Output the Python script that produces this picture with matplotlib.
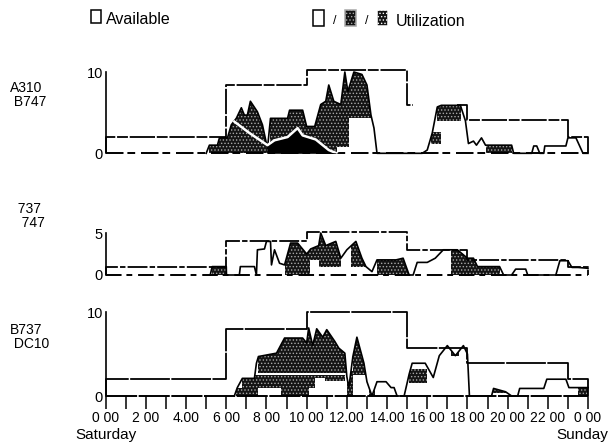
#!/usr/bin/env python3
"""Aircraft availability vs utilization over a Saturday, three fleet panels."""
import matplotlib
matplotlib.use("Agg")
import matplotlib.pyplot as plt
from matplotlib.patches import Rectangle

FONT = "Liberation Sans"
nan = float("nan")

# available fleet, step lines; nan = gap in the scanned line
edges_top = [0, 6, 10, 15, 15.3, 17.5, 18, 23, 24]
avail_top = [2, 8.4, 10.2, 6, nan, 6, 4.1, 2]
edges_mid = [0, 6, 10, 15, 18, 23, 24]
avail_mid = [1, 4.1, 5.1, 3, 1.8, 0.9]
edges_bot = [0, 6, 10, 15, 18, 23, 24]
avail_bot = [2, 8, 10, 5.7, 3.9, 2]

# panel 1: A310 / B747
hours_top = [5.0, 5.16, 5.56, 5.66, 6.06, 6.25, 6.5, 6.75, 6.9, 7.05, 7.2, 7.55, 7.8, 8.05, 8.2, 9.05,
             9.15, 9.8, 10.0, 10.4, 10.7, 10.95, 11.1, 11.35, 11.7, 11.9, 12.05, 12.35, 12.75, 13.0,
             13.2, 13.35, 13.5, 15.75, 16.0, 16.25, 16.5, 16.7, 17.65, 17.9, 18.05, 18.3, 18.45, 18.7,
             18.9, 20.2, 20.3, 21.2, 21.3, 21.45, 21.6, 21.8, 21.85, 22.9, 23.0, 23.4, 23.75, 24.0]
total_top = [0, 1, 1, 1.9, 1.9, 3.5, 4.3, 5.6, 4.7, 4.7, 6.4, 5.1, 3.5, 0.6, 4.3, 4.3,
             5.3, 5.3, 3.3, 3.3, 6, 6.4, 8.4, 6.4, 6, 10, 7.6, 10, 9.7, 8.4,
             4.7, 3.1, 0, 0, 0.4, 2.5, 5.7, 5.9, 5.9, 4, 1.2, 1.5, 1, 1.9,
             1, 1, 0, 0, 0.9, 0.9, 0, 0, 0.9, 0.9, 1.9, 1.9, 0, 0]
white_hours = [6.4, 7.15, 8.05, 8.4, 9.05, 9.55, 9.8, 10.45, 11.1, 11.5]
white_line = [3.9, 2.5, 1.0, 1.6, 2.0, 3.1, 2.2, 1.7, 0.4, 0]
shade_top = [(5.16, 8.1, 0, 10), (8.2, 11.5, 0, 10), (11.5, 12.1, 0.8, 10), (12.1, 13.4, 4.3, 10),
             (16.5, 17.7, 4.0, 10), (16.2, 16.7, 1.2, 2.6), (18.9, 20.2, 0, 10)]

# panel 2: 737 / 747
hours_mid = [5.2, 5.3, 6.0, 6.01, 6.65, 6.7, 7.4, 7.5, 7.55, 7.9, 8.0, 8.2, 8.25, 8.4, 8.65, 8.9, 9.2, 9.55,
             10.0, 10.2, 10.6, 10.7, 10.95, 11.45, 11.7, 12.0, 12.45, 12.75, 12.95, 13.25, 13.5, 14.45,
             14.8, 15.1, 15.3, 15.5, 16.0, 16.4, 16.8, 17.5, 18.0, 18.3, 18.5, 19.6, 19.8, 20.2, 20.4,
             20.9, 21.0, 22.4, 22.6, 23.0, 23.2, 23.5, 24.0]
total_mid = [0, 1, 1, 0, 0, 1, 1, 0, 3, 3.1, 4, 4, 1.2, 3, 1.4, 1.2, 3.8, 3.8,
             2.5, 3.1, 3.5, 5, 3.5, 4, 2, 3, 4, 2, 1, 0.4, 1.8, 1.8,
             2, 0, 0, 1.5, 1.5, 2, 3, 3, 2, 2, 1, 1, 0, 0, 0.7,
             0.7, 0, 0, 1.7, 1.7, 0.9, 0.9, 0.8]
shade_mid = [(5.3, 6.0, 0, 5), (8.9, 10.15, 0, 5), (10.15, 10.6, 1.8, 5), (10.6, 11.7, 1.0, 5),
             (12.2, 13.0, 1.0, 5), (13.5, 15.1, 0, 5), (17.2, 19.6, 0, 5)]

# panel 3: 737 / DC10
hours_bot = [6.4, 6.55, 6.8, 7.4, 7.5, 7.6, 8.5, 8.9, 9.8, 10.0, 10.1, 10.3, 10.5, 10.8, 11.0, 11.4, 11.6,
             11.9, 12.0, 12.1, 12.3, 12.5, 12.85, 13.0, 13.25, 13.5, 13.95, 14.2, 14.35, 14.5, 14.85,
             15.1, 15.25, 15.9, 16.3, 16.6, 17.0, 17.4, 17.8, 18.0, 18.1, 19.2, 19.3, 19.9, 20.2,
             20.5, 20.6, 21.8, 21.95, 22.9, 23.05, 23.6, 24.0]
total_bot = [0, 1, 2.1, 2.1, 3.9, 4.7, 5.1, 6.9, 6.9, 6.3, 8.1, 6, 8, 7, 7.9, 6.5, 5.7,
             5.1, 2.3, 1, 4.7, 7, 3.9, 1.7, 0, 1.7, 1.7, 1, 1, 0, 0,
             2.6, 3.9, 3.9, 2.2, 4.8, 6, 4.8, 6, 5, 0, 0, 0.9, 0.5, 0,
             0, 0.9, 0.9, 2, 2, 1, 1, 1]
shade_bot = [(7.6, 12.0, 2.75, 10), (6.8, 10.4, 0.95, 2.45), (10.9, 11.9, 1.8, 2.45), (10.4, 10.9, 2.2, 2.45),
             (6.5, 7.6, 0, 0.95), (8.7, 10.1, 0, 0.95), (12.0, 12.3, 0, 3), (12.3, 12.9, 2.5, 10),
             (13.1, 13.4, 0, 1), (15.1, 16.0, 1.5, 3.2), (17.2, 17.6, 4.8, 6), (19.2, 19.9, 0.3, 1),
             (23.05, 24, 1, 2), (23.5, 24, 0, 1)]

tick_hours = list(range(0, 25))
label_hours = list(range(0, 25, 2))
tick_labels = ["0 00", "2 00", "4.00", "6 00", "8 00", "10 00", "12.00", "14.00",
               "16 00", "18 00", "20 00", "22 00", "0 00"]
panel_names = ["A310\n B747", "  737\n   747", "B737\n DC10"]

W, H = 610, 444
X0, X1 = 105.7, 588


def make_axes(y_zero, y_top, ymax, base_ls):
    # panel placed by pixel position of its zero and top tick
    ax = fig.add_axes([X0 / W, 1 - y_zero / H, (X1 - X0) / W, (y_zero - y_top) / H])
    ax.set_xlim(0, 24)
    ax.set_ylim(0, ymax)
    ax.patch.set_alpha(0)
    for side in ("top", "right", "bottom"):
        ax.spines[side].set_visible(False)
    ax.spines["left"].set_linewidth(1.2)
    ax.set_yticks([0, ymax])
    ax.set_yticklabels(["0", str(ymax)], fontsize=10.5, family=FONT)
    ax.tick_params(axis="y", length=0, pad=2)
    ax.set_xticks([])
    ax.axhline(0, color="black", lw=1.4, ls=base_ls, clip_on=False)
    return ax


def draw_panel(ax, edges, level, hours, total, shades, name, name_y, avail_ls):
    xs, ys = [0], [0]
    for i, v in enumerate(level):
        xs += [edges[i], edges[i + 1]]
        ys += [v, v]
    xs.append(24)
    ys.append(0)
    ax.plot(xs, ys, color="black", lw=1.3, ls=avail_ls, clip_on=False)
    for lo, hi, floor, ceil in shades:
        poly = ax.fill_between(hours, 0, total, facecolor="#141414", edgecolor="#a8a8a8",
                               hatch=".....", lw=0)
        poly.set_clip_path(Rectangle((lo, floor), hi - lo, ceil - floor, transform=ax.transData))
    ax.plot(hours, total, color="black", lw=1.2, clip_on=False)
    fig.text(10 / W, 1 - name_y / H, name, fontsize=10, family=FONT, va="center", ha="left",
             linespacing=1.05)


plt.rcParams["hatch.linewidth"] = 0.6
fig = plt.figure(figsize=(W / 100, H / 100), dpi=100, facecolor="white")

ax1 = make_axes(153.3, 72, 10, (0, (9, 2, 4, 3)))
draw_panel(ax1, edges_top, avail_top, hours_top, total_top, shade_top, panel_names[0], 95,
           (0, (14, 1, 6, 1)))
ax1.fill_between(white_hours, 0, white_line, color="black", lw=0,
                 where=[h >= 8.0 for h in white_hours])
ax1.plot(white_hours, white_line, color="white", lw=1.8)

ax2 = make_axes(275, 233, 5, (0, (8, 2.5, 3, 3)))
draw_panel(ax2, edges_mid, avail_mid, hours_mid, total_mid, shade_mid, panel_names[1], 216,
           (0, (11, 1.2, 3, 1.2)))

ax3 = make_axes(396, 312, 10, (0, (16, 0.8)))
draw_panel(ax3, edges_bot, avail_bot, hours_bot, total_bot, shade_bot, panel_names[2], 337,
           (0, (22, 0.8)))
ax3.set_xticks(tick_hours)
ax3.set_xticklabels([tick_labels[label_hours.index(h)] if h in label_hours else "" for h in tick_hours],
                    fontsize=10, family=FONT)
ax3.tick_params(axis="x", length=9, direction="out", width=1.1, pad=2)

fig.text(75 / W, 1 - 435 / H, "Saturday", fontsize=11, family=FONT, va="center")
fig.text(608 / W, 1 - 435 / H, "Sunday", fontsize=11, family=FONT, va="center", ha="right")

# legend row
fig.add_artist(Rectangle((91 / W, 1 - 23 / H), 10 / W, 13 / H, transform=fig.transFigure,
                         facecolor="white", edgecolor="black", lw=1.1))
fig.text(106 / W, 1 - 20 / H, "Available", fontsize=11.5, family=FONT, va="center")
swatches = [(313, "white", None), (345, "#141414", "#a8a8a8"), (377, "#141414", "#ffffff")]
for sx, fc, hatch_col in swatches:
    fig.add_artist(Rectangle((sx / W, 1 - 26 / H), 11 / W, 16 / H, transform=fig.transFigure,
                             facecolor=fc, edgecolor="black" if hatch_col is None else hatch_col,
                             hatch="....." if hatch_col else None, lw=1.1))
fig.text(335 / W, 1 - 21 / H, "/", fontsize=9, family=FONT, va="center", ha="center")
fig.text(367 / W, 1 - 21 / H, "/", fontsize=9, family=FONT, va="center", ha="center")
fig.text(396 / W, 1 - 21 / H, "Utilization", fontsize=11.5, family=FONT, va="center")

fig.savefig("out.png", dpi=100)
